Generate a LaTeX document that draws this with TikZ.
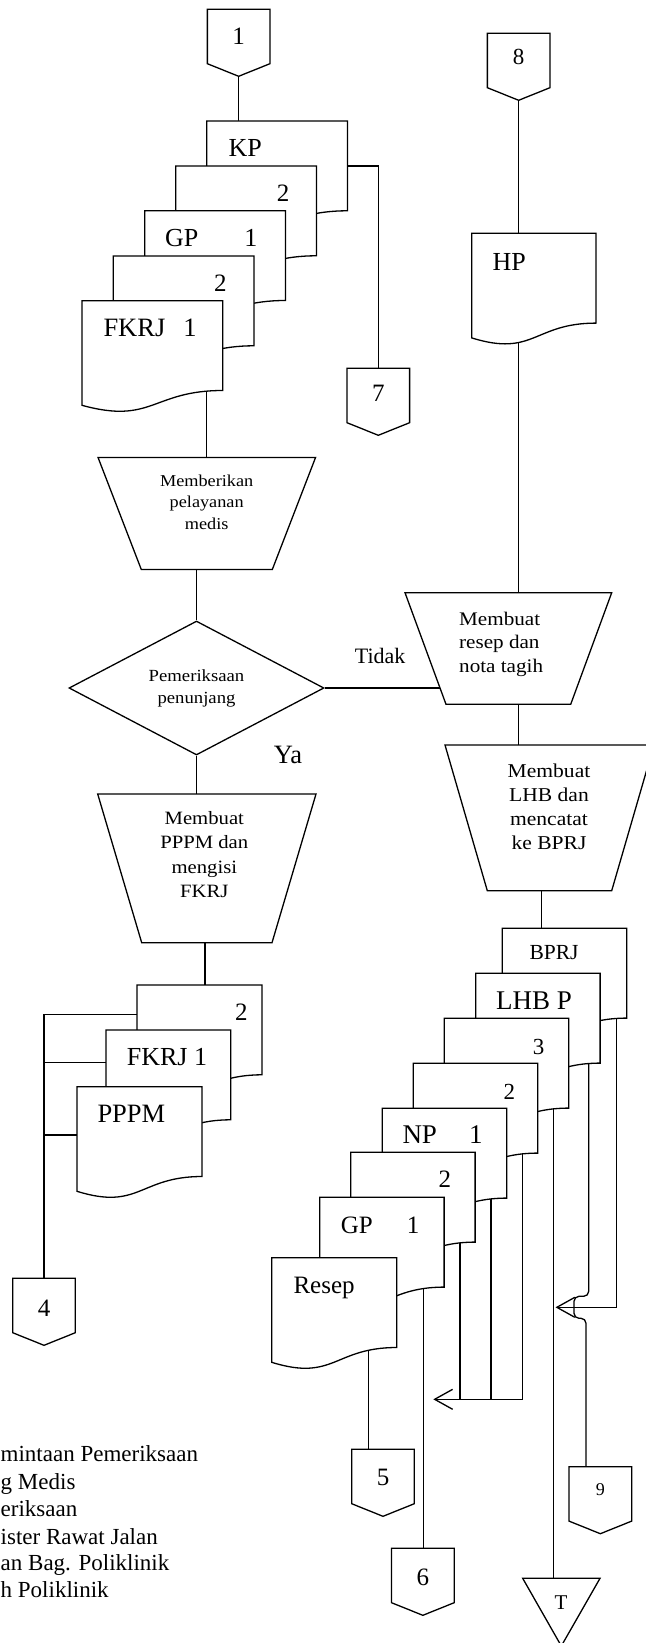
\documentclass[tikz,border=0pt]{standalone}
\usepackage{fontspec}
\setmainfont{Liberation Serif}
\newfontfamily\widefont{Liberation Serif}[FakeStretch=1.1]
\usetikzlibrary{arrows.meta, calc, shapes.geometric}
\pgfdeclarelayer{bg}
\pgfsetlayers{bg,main}
\tikzset{
  flow/.style={line width=1.3pt},
  box/.style={draw, line width=1.3pt, fill=white},
  decision/.style={diamond, draw, fill=white, line width=1.3pt, minimum width=255pt,
    minimum height=134pt, inner sep=0pt, align=center, font=\widefont\fontsize{17}{22}\selectfont},
  proctext/.style={inner sep=0pt, align=center, anchor=north},
  doclbl/.style={inner sep=0pt, anchor=base west, font=\fontsize{#1}{#1}\selectfont},
  conn/.style={inner sep=0pt, font=\fontsize{25}{25}\selectfont},
  legend/.style={inner sep=0pt, anchor=base west, font=\fontsize{23}{27}\selectfont},
  barb/.style={-{Straight Barb[length=18pt, width=20pt]}}
}
% document sheet: name, left x, top y, width
\newcommand{\docsheet}[4]{%
  \filldraw[box] (#2,#3) coordinate (#1) -- ({#2+#4},#3) coordinate (#1-ne)
    -- ({#2+#4},{#3+89.8}) coordinate (#1-s)
    .. controls ({#2+#4/2},{#3+89.8}) and ({#2+#4/2},{#3+124}) .. (#2,{#3+104.6}) -- cycle;
}
% off-page connector: [label opts], name, centre x, top y, label
\newcommand{\offpage}[5][]{%
  \filldraw[box] ({#3-31.3},#4) -- ({#3+31.3},#4) -- ({#3+31.3},{#4+54.4})
    -- (#3,{#4+67}) coordinate (#2-tip) -- ({#3-31.3},{#4+54.4}) -- cycle;
  \coordinate (#2-top) at (#3,#4);
  \node[conn,#1] (#2) at (#3,{#4+27}) {#5};
}
% manual operation: name, centre x, top y, top half width, bottom half width, height
\newcommand{\manualop}[6]{%
  \filldraw[box] ({#2-#4},#3) coordinate (#1-nw) -- ({#2+#4},#3) coordinate (#1-ne)
    -- ({#2+#5},{#3+#6}) coordinate (#1-se) -- ({#2-#5},{#3+#6}) coordinate (#1-sw) -- cycle;
  \coordinate (#1-n) at (#2,#3);
  \coordinate (#1-s) at (#2,{#3+#6});
}

\begin{document}
\begin{tikzpicture}[x=1pt, y=-1pt]
\useasboundingbox (0,0) rectangle (645,1643);

% connectors on page top
\offpage{c1}{238.65}{9.3}{1}
\offpage[yshift=3pt, font=\fontsize{23}{23}\selectfont]{c8}{518.65}{33.3}{8}
\offpage[yshift=2pt]{c7}{378.3}{368.3}{7}

% left stack
\docsheet{kp}{206.7}{121}{140.7}
\docsheet{k2}{175.7}{166}{140.7}
\docsheet{kgp}{144.7}{210.7}{140.7}
\docsheet{k2b}{113.3}{256}{140.7}
\docsheet{kfk}{82}{300.7}{140.7}
\node[doclbl=26] (kp-t) at (228.3,156.7) {KP};
\node[doclbl=25] (k2-t) at (276.7,201.7) {2};
\node[doclbl=26] (kgp-t) at (165,246.7) {GP\hspace{46pt}1};
\node[doclbl=25] (k2b-t) at (214,291.7) {2};
\node[doclbl=26.5] (kfk-t) at (103.3,336.7) {FKRJ\hspace{18pt}1};

\docsheet{hp}{471.7}{233.3}{124.3}
\node[doclbl=26] (hp-t) at (492.3,270) {HP};

% processes
\manualop{t1}{206.8}{457.5}{108.75}{65.5}{112}
\node[proctext, font=\widefont\fontsize{16.6}{21.3}\selectfont] (t1-txt) at (206.7,474.7) {Memberikan\\pelayanan\\medis};
\node[decision] (dia) at (196.5,688) {Pemeriksaan\\penunjang};
\manualop{t2}{508.35}{592.7}{103.35}{62.35}{111.6}
\node[proctext, anchor=north west, align=left, font=\widefont\fontsize{19.2}{23.3}\selectfont] (t2-txt) at (459,611.9) {Membuat\\resep dan\\nota tagih};
\manualop{t3}{206.85}{794}{109.15}{65.15}{148.7}
\node[proctext, font=\widefont\fontsize{18.8}{24.3}\selectfont] (t3-txt) at (204.3,811.2) {Membuat\\PPPM dan\\mengisi\\FKRJ};
\manualop{t4}{549.5}{745}{104.5}{62.2}{145.7}
\node[proctext, font=\widefont\fontsize{19.6}{24.2}\selectfont] (t4-txt) at (549,763.3) {Membuat\\LHB dan\\mencatat\\ke BPRJ};
\node[doclbl=22] (tidak) at (354.7,663.3) {Tidak};
\node[doclbl=26.5] (ya) at (273.7,763.3) {Ya};

% lower left stack
\docsheet{m2}{137}{985}{125}
\docsheet{mfk}{106}{1030}{124.7}
\docsheet{mpp}{77}{1086.7}{125}
\node[doclbl=25] (m2-t) at (235,1020) {2};
\node[doclbl=26] (mfk-t) at (126.7,1065) {FKRJ 1};
\node[doclbl=26.5] (mpp-t) at (97.3,1122.7) {PPPM};
\offpage[yshift=-3pt]{c4}{44}{1278.3}{4}

% right stack
\docsheet{bprj}{502.3}{928.3}{124.4}
\docsheet{lhb}{475.7}{973.3}{124.4}
\docsheet{r3}{444.3}{1018.3}{124.4}
\docsheet{r2a}{413.3}{1063.3}{124.4}
\docsheet{np}{382.3}{1108.3}{124.4}
\docsheet{r2b}{350.7}{1152.3}{124.4}
\docsheet{gp}{319.7}{1197.3}{124.4}
\docsheet{rs}{271.7}{1257.7}{125}
\node[doclbl=21.5] (bprj-t) at (529.3,959) {BPRJ};
\node[doclbl=27] (lhb-t) at (496,1009.3) {LHB P};
\node[doclbl=23] (r3-t) at (532.7,1054) {3};
\node[doclbl=23] (r2a-t) at (503.3,1099) {2};
\node[doclbl=27] (np-t) at (402.3,1143.3) {NP\hspace{32pt}1};
\node[doclbl=25] (r2b-t) at (438.3,1187.3) {2};
\node[doclbl=25] (gp-t) at (340.7,1233.3) {GP\hspace{34pt}1};
\node[doclbl=25] (rs-t) at (293.3,1293.3) {Resep};

% connectors on page bottom
\offpage[yshift=-1pt]{c5}{383}{1449.3}{5}
\offpage[yshift=-2.4pt]{c6}{422.85}{1548.3}{6}
\offpage[yshift=4pt, font=\fontsize{18}{18}\selectfont]{c9}{600.35}{1466.7}{9}
\filldraw[box] (522.7,1578.3) -- (600,1578.3) -- (561.3,1646) -- cycle;
\coordinate (tend-top) at (561.3,1578.3);
\node[conn, font=\fontsize{21}{21}\selectfont] (tend) at (561,1602.3) {T};

% legend
\node[legend] (leg1) at (0.5,1461.7) {mintaan Pemeriksaan};
\node[legend] (leg2) at (0.5,1489.3) {g Medis};
\node[legend] (leg3) at (0.5,1516.7) {eriksaan};
\node[legend] (leg4) at (0.5,1544) {ister Rawat Jalan};
\node[legend] (leg5) at (0.5,1570.7) {an Bag. Poliklinik};
\node[legend] (leg6) at (0.5,1597.7) {h Poliklinik};

% connections, behind the shapes
\begin{pgfonlayer}{bg}
\fill[white] (0,0) rectangle (645,1643);
\coordinate (t2-in) at ($(t2-nw)!0.85!(t2-sw)$);
\coordinate (bprj-in) at (541.3,928.3);
\coordinate (m2-in) at (205,985);
\coordinate (m2-feed) at (139.3,1014.3);
\coordinate (mfk-feed) at (106,1062.3);
\coordinate (mpp-feed) at (77,1135);
\coordinate (bprj-out) at (616.7,1018);
\coordinate (lhb-out) at (588.7,1063);
\coordinate (r3-out) at (553.3,1108);
\coordinate (r2a-out) at (522.3,1152.7);
\coordinate (np-out) at (491,1197.7);
\coordinate (r2b-out) at (460,1242.7);
\coordinate (gp-out) at (423.3,1287);
\coordinate (rs-out) at (368.3,1347);
\coordinate (tip-a) at (555.5,1307.3);
\coordinate (tip-b) at (433.3,1399.3);
\coordinate (hop-a) at (574,1296.3);
\coordinate (hop-b) at (574,1318.3);
\coordinate (c9-in) at (586,1466.7);

\draw[flow] (c1-tip) -- (c1-tip |- kp);
\draw[flow] (kp-ne |- k2) -| (c7-top);
\draw[flow] (t1-n |- kfk-s) -- (t1-n);
\draw[flow] (t1-s -| dia.north) -- (dia.north);
\draw[flow] (dia.south) -- (dia.south |- t3-n);
\draw[flow] (dia.east) -- (dia.east -| t2-in);
\draw[flow] (c8-tip) -- (c8-tip |- t2-n);
\draw[flow] (c8-tip |- t2-s) -- (c8-tip |- t4-n);
\draw[flow] (bprj-in |- t4-s) -- (bprj-in);
\draw[flow] (m2-in |- t3-s) -- (m2-in);
\draw[flow] (m2-feed) -| (c4-top);
\draw[flow] (mfk-feed) -- (mfk-feed -| c4-top);
\draw[flow] (mpp-feed) -- (mpp-feed -| c4-top);
\draw[flow, barb] (bprj-out) |- (tip-a);
\draw[flow, rounded corners=5pt] (lhb-out) |- (hop-a) -- (hop-b) -| (c9-in);
\draw[flow] (r3-out) -- (r3-out |- tend-top);
\draw[flow, barb] (r2a-out) |- (tip-b);
\draw[flow] (np-out) -- (np-out |- tip-b);
\draw[flow] (r2b-out) -- (r2b-out |- tip-b);
\draw[flow] (gp-out) -- (gp-out |- c6-top);
\draw[flow] (rs-out) -- (rs-out |- c5-top);
\end{pgfonlayer}
\end{tikzpicture}
\end{document}
